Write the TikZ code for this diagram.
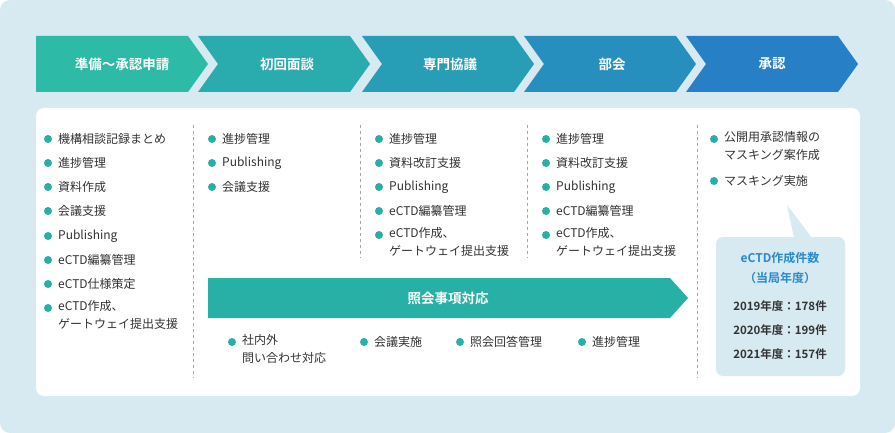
\documentclass[tikz,border=0pt]{standalone}
\usepackage{fontspec}
\setmainfont{Noto Sans CJK JP}
\newfontfamily\jpb{Noto Sans CJK JP Bold}
\definecolor{bgc}{HTML}{D7E9F1}
\definecolor{tx}{HTML}{333333}
\definecolor{tl}{HTML}{27B1A6}
\definecolor{cA}{HTML}{2DBAA6}
\definecolor{cB}{HTML}{2AABAE}
\definecolor{cC}{HTML}{289DB6}
\definecolor{cD}{HTML}{268FBE}
\definecolor{cE}{HTML}{2780C6}
\definecolor{ttl}{HTML}{2A8ACB}
\tikzset{
 it/.style={anchor=west,inner sep=0pt,font=\fontsize{12}{18}\selectfont,text=tx,align=left},
 bul/.style={circle,fill=tl,inner sep=0pt,minimum size=8pt},
 sep/.style={draw=gray!70,dashed,line width=0.7pt},
 hd/.style={text=white,font=\jpb\fontsize{13.5}{15}\selectfont}
}
\newcommand{\bi}[4]{\node[bul] (#1b) at (#2,#3) {}; \node[it] (#1) at (#2+10,#3) {#4};}
\begin{document}
\begin{tikzpicture}[x=1pt,y=-1pt]
\useasboundingbox (0,0) rectangle (895,433);
\fill[bgc,rounded corners=10pt] (0,0) rectangle (895,433);
% chevrons
\foreach \x/\c [count=\i] in {36/cA,198/cB,362/cC,524/cD,686/cE}{
 \ifnum\i=1
  \fill[\c] (\x,36) -- (\x+152,36) -- (\x+172,64) -- (\x+152,92) -- (\x,92) -- cycle;
 \else
  \fill[\c] (\x,36) -- (\x+152,36) -- (\x+172,64) -- (\x+152,92) -- (\x,92) -- (\x+20,64) -- cycle;
 \fi}
\node[hd] (h1) at (122,64) {準備〜承認申請};
\node[hd] (h2) at (287,64) {初回面談};
\node[hd] (h3) at (450,64) {専門協議};
\node[hd] (h4) at (612,64) {部会};
\node[hd] (h5) at (772,64) {承認};
% panel
\fill[white,rounded corners=8pt] (36,108) rectangle (860,396);
\draw[sep] (193,125) -- (193,378);
\draw[sep] (360,125) -- (360,258);
\draw[sep] (527,125) -- (527,258);
\draw[sep] (697,125) -- (697,378);
% col1
\bi{a1}{48}{139}{機構相談記録まとめ}
\bi{a2}{48}{163}{進捗管理}
\bi{a3}{48}{187}{資料作成}
\bi{a4}{48}{211}{会議支援}
\bi{a5}{48}{236}{Publishing}
\bi{a6}{48}{260}{eCTD編纂管理}
\bi{a7}{48}{284}{eCTD仕様策定}
\node[bul] (a8b) at (48,308) {};
\node[it,anchor=north west] (a8) at (58,300) {eCTD作成、\\ゲートウェイ提出支援};
% col2
\bi{b1}{212}{139}{進捗管理}
\bi{b2}{212}{163}{Publishing}
\bi{b3}{212}{187}{会議支援}
% col3 & col4
\foreach \x/\p in {379/c,546/d}{
 \bi{\p1}{\x}{139}{進捗管理}
 \bi{\p2}{\x}{163}{資料改訂支援}
 \bi{\p3}{\x}{187}{Publishing}
 \bi{\p4}{\x}{211}{eCTD編纂管理}
 \node[bul] (\p5b) at (\x,235) {};
 \node[it,anchor=north west] (\p5) at (\x+10,227) {eCTD作成、\\ゲートウェイ提出支援};
}
% col5
\node[bul] (e1b) at (714,139) {};
\node[it,anchor=north west] (e1) at (724,131) {公開用承認情報の\\マスキング案作成};
\bi{e2}{714}{181}{マスキング実施}
% inquiry arrow
\fill[tl] (208,278) -- (670,278) -- (688,298) -- (670,318) -- (208,318) -- cycle;
\node[hd] (inq) at (448,298) {照会事項対応};
\node[bul] (f1b) at (232,342) {};
\node[it,anchor=north west] (f1) at (242,334) {社内外\\問い合わせ対応};
\bi{f2}{364}{342}{会議実施}
\bi{f3}{460}{342}{照会回答管理}
\bi{f4}{582}{342}{進捗管理}
% callout
\fill[bgc,rounded corners=7pt] (716,237) rectangle (845,376);
\fill[bgc] (787,205) -- (812,238) -- (794,238) -- cycle;
\node[text=ttl,font=\jpb\fontsize{12}{20}\selectfont,align=center] (ct) at (780,268) {eCTD作成件数\\（当局年度）};
\node[text=tx,font=\jpb\fontsize{11.5}{14}\selectfont] (y1) at (780,306) {2019年度：178件};
\node[text=tx,font=\jpb\fontsize{11.5}{14}\selectfont] (y2) at (780,330) {2020年度：199件};
\node[text=tx,font=\jpb\fontsize{11.5}{14}\selectfont] (y3) at (780,354) {2021年度：157件};
\end{tikzpicture}
\end{document}
